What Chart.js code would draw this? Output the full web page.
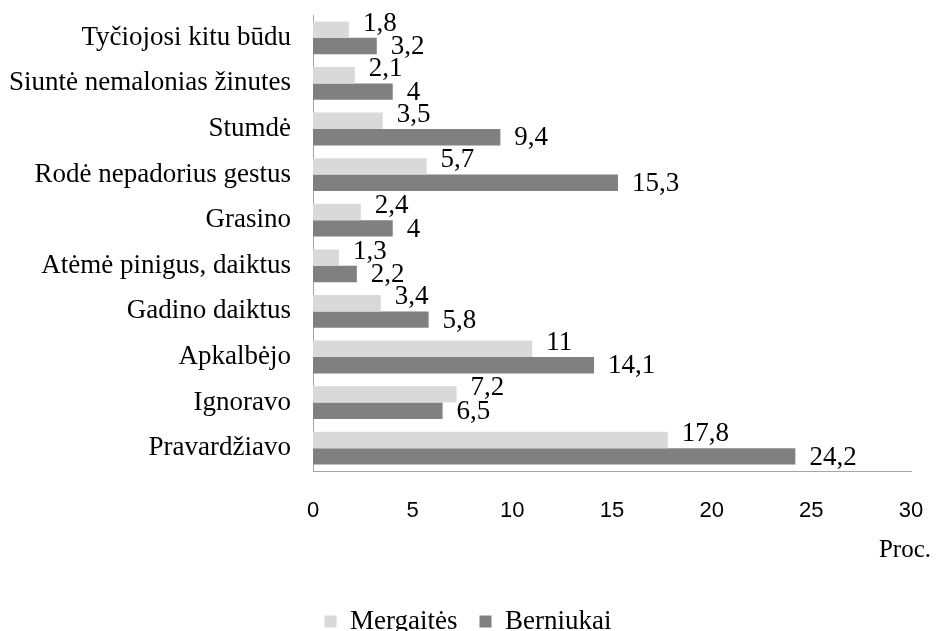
<!DOCTYPE html>
<html>
<head>
<meta charset="utf-8">
<script src="https://cdn.jsdelivr.net/npm/chart.js@4"></script>
<style>
  html, body { margin: 0; padding: 0; background: #fff; }
  #wrap { width: 936px; height: 631px; }
</style>
</head>
<body>
<div id="wrap"><canvas id="chart" width="936" height="631"></canvas></div>
<script>
// --- data ---
const categories = [
  'Tyčiojosi kitu būdu',
  'Siuntė nemalonias žinutes',
  'Stumdė',
  'Rodė nepadorius gestus',
  'Grasino',
  'Atėmė pinigus, daiktus',
  'Gadino daiktus',
  'Apkalbėjo',
  'Ignoravo',
  'Pravardžiavo'
];
const mergaites = [1.8, 2.1, 3.5, 5.7, 2.4, 1.3, 3.4, 11, 7.2, 17.8];
const berniukai = [3.2, 4, 9.4, 15.3, 4, 2.2, 5.8, 14.1, 6.5, 24.2];
const seriesNames = ['Mergaitės', 'Berniukai'];
const xTicks = [0, 5, 10, 15, 20, 25, 30];
const unitLabel = 'Proc.';

const SERIF = '"Liberation Serif", "Times New Roman", serif';
const SANS = '"Liberation Sans", Arial, sans-serif';

// value labels at the end of each bar (comma decimals)
const barLabels = {
  id: 'barLabels',
  afterDatasetsDraw(chart) {
    const ctx = chart.ctx;
    ctx.save();
    ctx.font = '27px ' + SERIF;
    ctx.fillStyle = '#000';
    ctx.textBaseline = 'middle';
    ctx.textAlign = 'left';
    chart.data.datasets.forEach((ds, i) => {
      const meta = chart.getDatasetMeta(i);
      const dy = i === 0 ? -6 : 1;
      meta.data.forEach((bar, j) => {
        const txt = String(ds.data[j]).replace('.', ',');
        ctx.fillText(txt, bar.x + 14, bar.y + dy);
      });
    });
    // unit label under the axis
    ctx.font = '25px ' + SERIF;
    ctx.textAlign = 'right';
    ctx.fillText(unitLabel, 931, 550);
    ctx.restore();
  }
};

const ctx = document.getElementById('chart').getContext('2d');
const chart = new Chart(ctx, {
  type: 'bar',
  data: {
    labels: categories,
    datasets: [
      { label: seriesNames[0], data: mergaites, backgroundColor: '#d9d9d9' },
      { label: seriesNames[1], data: berniukai, backgroundColor: '#808080' }
    ]
  },
  options: {
    indexAxis: 'y',
    responsive: false,
    animation: false,
    layout: { padding: { top: 15, right: 0, left: 0, bottom: -14 } },
    datasets: { bar: { categoryPercentage: 0.72, barPercentage: 1 } },
    scales: {
      x: {
        min: 0, max: 30,
        afterBuildTicks: s => { s.ticks = xTicks.map(v => ({ value: v })); },
        afterFit: s => { s.height = 115; s.paddingLeft = 0; s.paddingRight = 25; },
        grid: { display: false, drawTicks: false },
        border: { color: '#a6a6a6', width: 1 },
        ticks: { color: '#000', font: { family: SANS, size: 22 }, padding: 27 }
      },
      y: {
        afterFit: s => { s.width = 313; s.paddingTop = 0; s.paddingBottom = 0; },
        grid: { display: false, drawTicks: false },
        border: { color: '#a6a6a6', width: 1 },
        ticks: { color: '#000', font: { family: SERIF, size: 27 }, padding: 22, autoSkip: false }
      }
    },
    plugins: {
      legend: {
        position: 'bottom',
        labels: {
          color: '#000',
          font: { family: SERIF, size: 27 },
          boxWidth: 12, boxHeight: 12,
          padding: 22
        }
      },
      tooltip: { enabled: false }
    }
  },
  plugins: [barLabels]
});
</script>
</body>
</html>
